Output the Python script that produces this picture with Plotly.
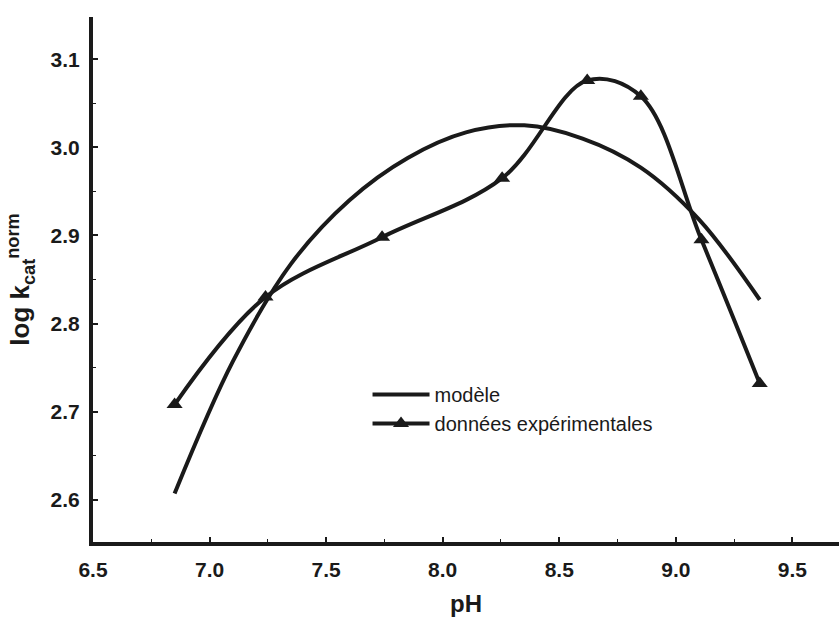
import plotly.graph_objects as go

# Experimental data (triangles)
ph_exp = [6.85, 7.24, 7.74, 8.255, 8.62, 8.85, 9.11, 9.36]
logk_exp = [2.708, 2.830, 2.898, 2.965, 3.076, 3.058, 2.895, 2.732]

# Model curve
ph_model = [6.85, 7.10, 7.35, 7.60, 7.85, 8.10, 8.35, 8.60, 8.85, 9.10, 9.36]
logk_model = [2.607, 2.757, 2.868, 2.940, 2.988, 3.017, 3.025, 3.010, 2.977, 2.918, 2.827]

x_ticks = [6.5, 7.0, 7.5, 8.0, 8.5, 9.0, 9.5]
y_ticks = [2.6, 2.7, 2.8, 2.9, 3.0, 3.1]

INK = "#1a1a1a"
FONT = "Liberation Sans, Arial, sans-serif"

fig = go.Figure()
fig.add_trace(go.Scatter(
    x=ph_model, y=logk_model, mode="lines", name="modèle",
    line=dict(color=INK, width=4, shape="spline", smoothing=1.0),
))
fig.add_trace(go.Scatter(
    x=ph_exp, y=logk_exp, mode="lines+markers", name="données expérimentales",
    line=dict(color=INK, width=4, shape="spline", smoothing=1.0),
    marker=dict(symbol="triangle-up", size=14, color=INK),
))

fig.update_layout(
    width=839, height=618,
    margin=dict(l=93, r=0, t=17, b=76),
    paper_bgcolor="white", plot_bgcolor="white",
    font=dict(family=FONT, color=INK),
    showlegend=True,
    legend=dict(
        x=0.368, y=0.318, xanchor="left", yanchor="top",
        font=dict(family=FONT, size=20, color=INK),
        bgcolor="rgba(0,0,0,0)", itemwidth=57, tracegroupgap=0,
    ),
)
fig.update_xaxes(
    range=[6.5, 9.70], tickvals=x_ticks, ticktext=[f"{v:.1f}" for v in x_ticks],
    showgrid=False, zeroline=False,
    showline=True, linewidth=4, linecolor=INK,
    ticks="inside", ticklen=5, tickwidth=1.5, tickcolor=INK,
    minor=dict(ticks="inside", dtick=0.25, tick0=6.5, ticklen=3, tickwidth=1, tickcolor=INK),
    tickfont=dict(family=FONT, size=21, color=INK, weight="bold"),
    ticklabelstandoff=6,
    title=dict(text="<b>pH</b>", font=dict(family=FONT, size=24, color=INK), standoff=16),
)
fig.update_yaxes(
    range=[2.552, 3.148], tickvals=y_ticks, ticktext=[f"{v:.1f}" for v in y_ticks],
    showgrid=False, zeroline=False,
    showline=True, linewidth=4, linecolor=INK,
    ticks="inside", ticklen=5, tickwidth=1.5, tickcolor=INK,
    minor=dict(ticks="inside", dtick=0.05, tick0=2.55, ticklen=3, tickwidth=1, tickcolor=INK),
    tickfont=dict(family=FONT, size=21, color=INK, weight="bold"),
    ticklabelstandoff=5,
    title=dict(text="<b>log k<sub>cat</sub><sup>norm</sup></b>",
               font=dict(family=FONT, size=26, color=INK), standoff=14),
)

fig.write_html("out.html")
